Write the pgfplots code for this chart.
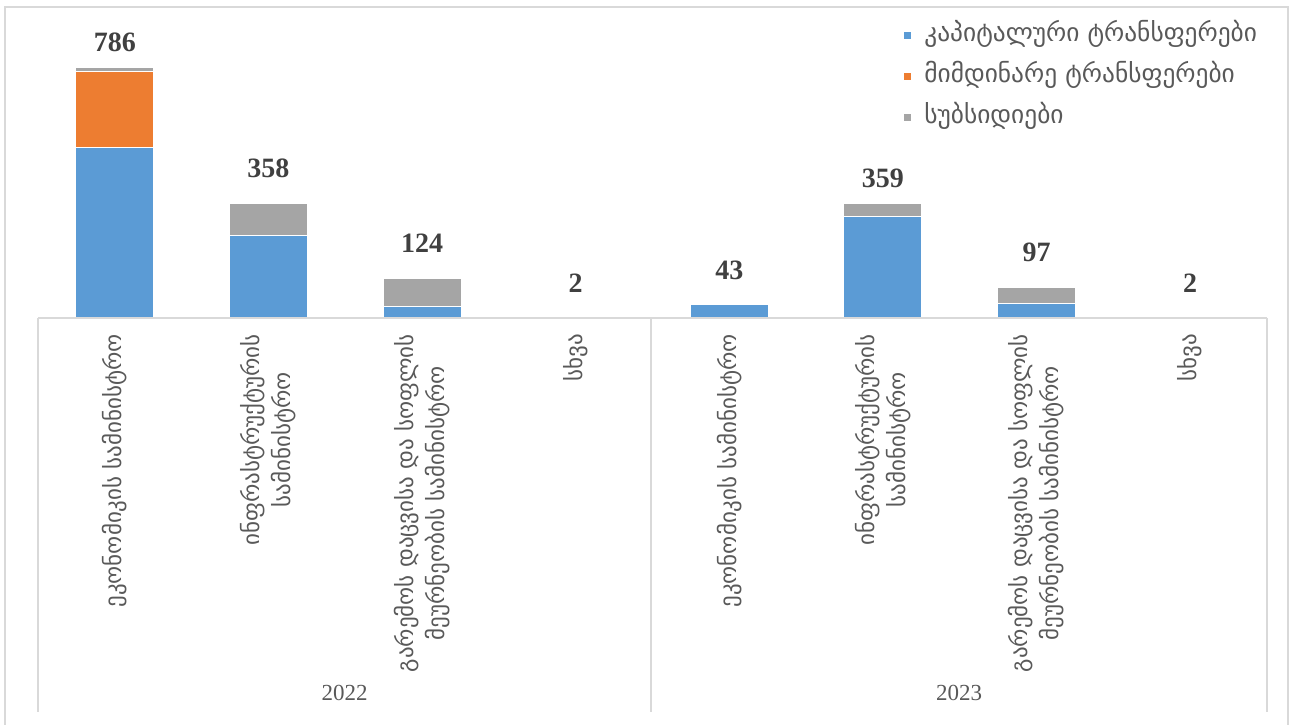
\documentclass[border=0pt]{standalone}
\usepackage{fontspec}
\setmainfont{Liberation Serif}
\newfontfamily\geo{DejaVu Sans}
\usepackage{pgfplots}
\pgfplotsset{compat=1.18}
\definecolor{cblue}{HTML}{5B9BD5}
\definecolor{corange}{HTML}{ED7D31}
\definecolor{cgray}{HTML}{A5A5A5}
\definecolor{gridc}{HTML}{D9D9D9}
\definecolor{txt}{HTML}{595959}
\definecolor{num}{HTML}{404040}
\begin{document}
\begin{tikzpicture}
\useasboundingbox (-19pt,159pt) rectangle (627.5pt,-203pt);
\begin{axis}[
  at={(0pt,0pt)}, anchor=south west,
  width=614.5pt, height=155.5pt, scale only axis,
  ybar stacked, bar width=39pt,
  xmin=-0.5, xmax=7.5, ymin=0, ymax=974,
  axis on top,
  axis x line*=bottom, axis y line=none,
  x axis line style={gridc, line width=0.75pt},
  xtick={0,...,7}, major tick length=0pt,
  xticklabels={{ეკონომიკის სამინისტრო},{ინფრასტრუქტურის\\სამინისტრო},{გარემოს დაცვისა და სოფლის\\მეურნეობის სამინისტრო},{სხვა},{ეკონომიკის სამინისტრო},{ინფრასტრუქტურის\\სამინისტრო},{გარემოს დაცვისა და სოფლის\\მეურნეობის სამინისტრო},{სხვა}},
  xticklabel style={font=\geo\fontsize{11.5}{15.5}\selectfont, text=txt, rotate=90, anchor=east, align=center},
  xticklabel shift=4.5pt,
  ytick=\empty,
  legend style={at={(0.7038,0.9486)}, anchor=north west, draw=none, fill=none,
    font=\geo\fontsize{12.7}{14}\selectfont, text=txt, inner sep=0pt, row sep=8.5pt,
    nodes={text height=9pt, text depth=3pt, inner sep=0pt}},
  legend cell align=left,
  legend image code/.code={\fill[#1] (0pt,-2pt) rectangle (4pt,2pt); \path (10pt,0pt);},
]
\addplot[fill=cblue, draw=white, line width=0.5pt] coordinates {(0,535) (1,257) (2,35) (3,2) (4,43) (5,319) (6,47) (7,2)};
\addplot[fill=corange, draw=white, line width=0.5pt] coordinates {(0,236) (1,0) (2,0) (3,0) (4,0) (5,0) (6,0) (7,0)};
\addplot[fill=cgray, draw=white, line width=0.5pt] coordinates {(0,15) (1,101) (2,89) (3,0) (4,0) (5,40) (6,50) (7,0)};
\legend{კაპიტალური ტრანსფერები, მიმდინარე ტრანსფერები, სუბსიდიები}
\end{axis}
\begin{axis}[
  at={(0pt,0pt)}, anchor=south west,
  width=614.5pt, height=155.5pt, scale only axis,
  xmin=-0.5, xmax=7.5, ymin=0, ymax=974,
  hide axis, clip=false,
]
\addplot[draw=none, mark=none, nodes near coords, nodes near coords align=center,
  point meta=explicit symbolic,
  every node near coord/.append style={font=\bfseries\fontsize{14}{16}\selectfont, text=num}]
  table[meta=lab] {
x y lab
0 864 786
1 470 358
2 235 124
3 110 2
4 150 43
5 438 359
6 207 97
7 110 2
};
\end{axis}
\draw[gridc, line width=0.75pt] (0pt,0pt) -- (0pt,-197pt);
\draw[gridc, line width=0.75pt] (306.5pt,0pt) -- (306.5pt,-197pt);
\draw[gridc, line width=0.75pt] (614.5pt,0pt) -- (614.5pt,-197pt);
\draw[gridc, line width=0.75pt] (-16.5pt,-210pt) -- (-16.5pt,155.5pt) -- (625pt,155.5pt) -- (625pt,-210pt);
\node[font=\fontsize{11.5}{13}\selectfont, text=txt] at (153.25pt,-187.5pt) {2022};
\node[font=\fontsize{11.5}{13}\selectfont, text=txt] at (460.5pt,-187.5pt) {2023};
\end{tikzpicture}
\end{document}
